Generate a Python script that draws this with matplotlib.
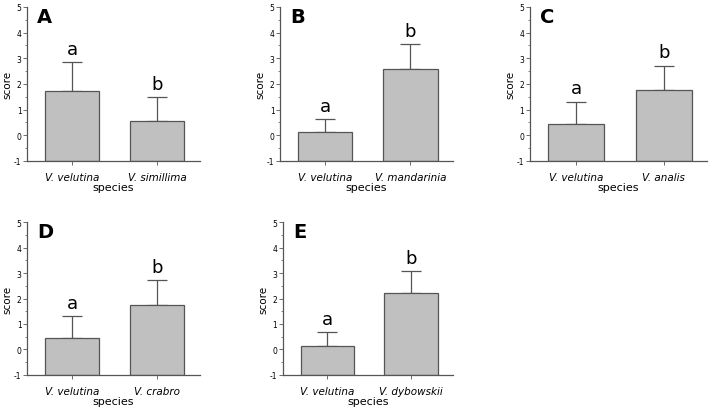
import matplotlib
matplotlib.use("Agg")
import matplotlib.pyplot as plt
from matplotlib.ticker import MultipleLocator

plt.rcParams['font.family'] = ['DejaVu Sans']
plt.rcParams['axes.unicode_minus'] = False

panels = ["A", "B", "C", "D", "E"]
species_ref = "V. velutina"
species_other = ["V. simillima", "V. mandarinia", "V. analis", "V. crabro", "V. dybowskii"]
means_ref = [1.72, 0.14, 0.45, 0.45, 0.15]
means_other = [0.56, 2.56, 1.78, 1.75, 2.22]
err_ref = [1.12, 0.48, 0.86, 0.86, 0.54]
err_other = [0.94, 0.99, 0.93, 0.97, 0.86]
letters_ref = ["a", "a", "a", "a", "a"]
letters_other = ["b", "b", "b", "b", "b"]
y_floor = -1

# axes rectangles in figure fraction (left, bottom, width, height)
rects = [
    (0.038, 0.609, 0.243, 0.372),
    (0.394, 0.609, 0.243, 0.372),
    (0.745, 0.609, 0.250, 0.372),
    (0.038, 0.092, 0.243, 0.369),
    (0.398, 0.092, 0.239, 0.369),
]

fig = plt.figure(figsize=(7.11, 4.14), dpi=100)
edge = "#555555"

for i, p in enumerate(panels):
    ax = fig.add_axes(rects[i])
    labels = [species_ref, species_other[i]]
    vals = [means_ref[i], means_other[i]]
    errs = [err_ref[i], err_other[i]]
    xs = [0, 1]
    heights = [v - y_floor for v in vals]
    ax.bar(xs, heights, bottom=y_floor, width=0.64, color="#c0c0c0",
           edgecolor=edge, linewidth=0.9, zorder=2)
    ax.errorbar(xs, vals, yerr=[[0, 0], errs], fmt="none", ecolor=edge,
                elinewidth=0.9, capsize=7, capthick=0.9, zorder=1)
    for x, v, e, t in zip(xs, vals, errs, [letters_ref[i], letters_other[i]]):
        ax.annotate(t, (x, v + e), xytext=(0, 3), textcoords="offset points",
                    ha="center", va="bottom", fontsize=13)
    ax.set_xlim(-0.53, 1.5)
    ax.set_ylim(y_floor, 5)
    ax.yaxis.set_major_locator(MultipleLocator(1))
    ax.yaxis.set_minor_locator(MultipleLocator(0.5))
    ax.set_xticks(xs)
    ax.set_xticklabels(labels, fontstyle="italic", fontsize=7.5)
    ax.tick_params(axis="y", labelsize=5.5, length=3, width=0.6, color=edge, pad=1)
    ax.tick_params(axis="y", which="minor", length=1.8, width=0.5, color=edge)
    ax.tick_params(axis="x", length=3, width=0.6, color=edge, pad=5)
    for s in ["top", "right"]:
        ax.spines[s].set_visible(False)
    for s in ["left", "bottom"]:
        ax.spines[s].set_color(edge)
        ax.spines[s].set_linewidth(0.9)
    ax.set_xlabel("species", fontsize=8, labelpad=0)
    ax.set_ylabel("score", fontsize=7.5, labelpad=1)
    ax.text(0.06, 1.0, p, transform=ax.transAxes, fontsize=14, fontweight="bold",
            ha="left", va="top")

fig.savefig("out.png", dpi=100)
